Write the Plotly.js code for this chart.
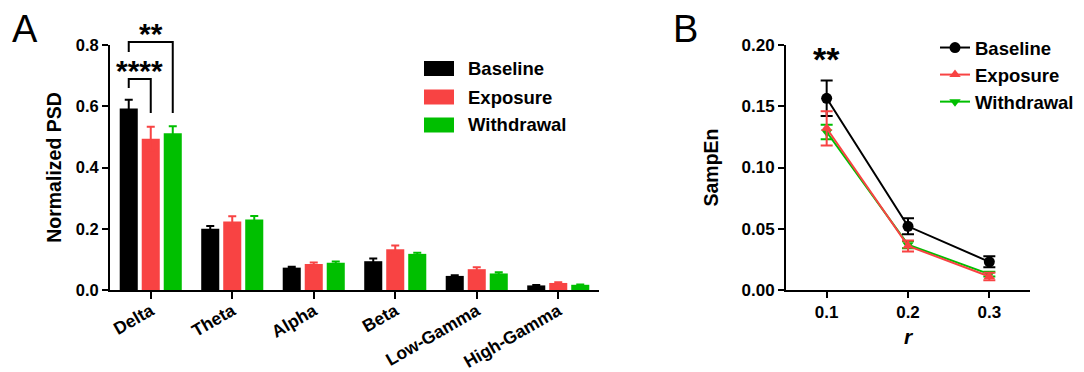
<!DOCTYPE html>
<html>
<head>
<meta charset="utf-8">
<script src="https://cdn.plot.ly/plotly-3.0.1.min.js"></script>
<style>html,body{margin:0;padding:0;background:#fff}#chart{width:1084px;height:372px}</style>
</head>
<body>
<div id="chart"></div>
<script>
// ---- Panel A data ----
const categories = ['Delta', 'Theta', 'Alpha', 'Beta', 'Low-Gamma', 'High-Gamma'];
const seriesNames = ['Baseline', 'Exposure', 'Withdrawal'];
const psdBaseline = [0.593, 0.200, 0.073, 0.094, 0.046, 0.015];
const psdBaselineErr = [0.028, 0.009, 0.003, 0.009, 0.002, 0.001];
const psdExposure = [0.494, 0.224, 0.085, 0.133, 0.068, 0.023];
const psdExposureErr = [0.039, 0.017, 0.005, 0.012, 0.006, 0.002];
const psdWithdrawal = [0.512, 0.230, 0.089, 0.118, 0.054, 0.017];
const psdWithdrawalErr = [0.023, 0.012, 0.004, 0.004, 0.004, 0.001];
const psdTicks = [0, 0.2, 0.4, 0.6, 0.8];

// ---- Panel B data ----
const rValues = [0.1, 0.2, 0.3];
const sampBaseline = [0.1565, 0.052, 0.023];
const sampBaselineErr = [0.0145, 0.0065, 0.0045];
const sampExposure = [0.132, 0.036, 0.011];
const sampExposureErr = [0.014, 0.0045, 0.003];
const sampWithdrawal = [0.129, 0.037, 0.013];
const sampWithdrawalErr = [0.006, 0.003, 0.002];
const sampTicks = [0, 0.05, 0.10, 0.15, 0.20];

// significance labels
const sigA = ['****', '**'];
const sigB = ['**'];

// ---- styling ----
const W = 1084, H = 372;
const FONT = '"Liberation Sans", Arial, sans-serif';
const colors = ['#000000', '#F84343', '#00BF00'];
const px = x => x / W;
const py = y => 1 - y / H;

const xDomA = [px(110), px(599)];
const yDom = [py(290), py(45)];
const xDomB = [px(786), px(1030)];
const yMaxA = 0.8;
const bargap = 0.19;
const slot = (1 - bargap) / 3;

function barTrace(name, y, err, i) {
  return {
    type: 'bar', name: name, x: categories, y: y,
    marker: {color: colors[i], line: {width: 0}},
    error_y: {type: 'data', array: err, visible: true, color: colors[i], thickness: 2, width: 4},
    xaxis: 'x', yaxis: 'y', showlegend: false
  };
}
function lineTrace(name, y, err, i, symbol, size, rank) {
  return {
    type: 'scatter', mode: 'lines+markers', name: name, x: rValues, y: y,
    line: {color: colors[i], width: 2},
    marker: {color: colors[i], symbol: symbol, size: size},
    error_y: {type: 'data', array: err, visible: true, color: colors[i], thickness: 2, width: 6},
    xaxis: 'x2', yaxis: 'y2', legend: 'legend2', legendgroup: name, legendrank: rank
  };
}

const data = [
  barTrace(seriesNames[0], psdBaseline, psdBaselineErr, 0),
  barTrace(seriesNames[1], psdExposure, psdExposureErr, 1),
  barTrace(seriesNames[2], psdWithdrawal, psdWithdrawalErr, 2),
  lineTrace(seriesNames[0], sampBaseline, sampBaselineErr, 0, 'circle', 11, 1),
  lineTrace(seriesNames[2], sampWithdrawal, sampWithdrawalErr, 2, 'triangle-down', 10, 3),
  lineTrace(seriesNames[1], sampExposure, sampExposureErr, 1, 'triangle-up', 10, 2)
];

// convert panel A (category index, value) to paper coords
const xA = (idx, k) => xDomA[0] + (idx + 0.5 + (k - 1) * slot) / categories.length * (xDomA[1] - xDomA[0]);
const yA = v => yDom[0] + v / yMaxA * (yDom[1] - yDom[0]);

const shapes = [];
const annotations = [];
// brackets: [leftBar, rightBar, topValue, leftBottom, rightBottom]
const brackets = [[0, 1, 0.689, 0.660, 0.578], [0, 2, 0.810, 0.777, 0.578]];
brackets.forEach((b, j) => {
  const x0 = xA(0, b[0]), x1 = xA(0, b[1]);
  shapes.push({type: 'path', xref: 'paper', yref: 'paper',
    path: `M${x0},${yA(b[3])} L${x0},${yA(b[2])} L${x1},${yA(b[2])} L${x1},${yA(b[4])}`,
    line: {color: '#000', width: 2}});
  annotations.push({xref: 'paper', yref: 'paper', x: (x0 + x1) / 2, y: yA(b[2]) - 0.028,
    text: sigA[j], showarrow: false, xanchor: 'center', yanchor: 'bottom',
    font: {family: FONT, size: 30, weight: 'bold', color: '#000'}});
});
annotations.push({xref: 'x2', yref: 'paper', x: rValues[0], y: py(80),
  text: sigB[0], showarrow: false, xanchor: 'center', yanchor: 'bottom',
  font: {family: FONT, size: 34, weight: 'bold', color: '#000'}});

// custom bar legend for panel A
const legRows = [68.5, 97, 125];
seriesNames.forEach((n, i) => {
  shapes.push({type: 'rect', xref: 'paper', yref: 'paper',
    x0: px(424), x1: px(454), y0: py(legRows[i] + 7.5), y1: py(legRows[i] - 7.5),
    fillcolor: colors[i], line: {width: 0}});
  annotations.push({xref: 'paper', yref: 'paper', x: px(466), y: py(legRows[i]),
    text: n, showarrow: false, xanchor: 'left', yanchor: 'middle',
    font: {family: FONT, size: 18.5, weight: 'bold', color: '#000'}});
});

// panel letters
annotations.push({xref: 'paper', yref: 'paper', x: px(25), y: py(29), text: 'A', showarrow: false,
  xanchor: 'center', yanchor: 'middle', font: {family: FONT, size: 38, color: '#000'}});
annotations.push({xref: 'paper', yref: 'paper', x: px(685), y: py(29), text: 'B', showarrow: false,
  xanchor: 'center', yanchor: 'middle', font: {family: FONT, size: 38, color: '#000'}});

const axisCommon = {
  showline: true, linecolor: '#000', linewidth: 2, ticks: 'outside', ticklen: 6, tickwidth: 2,
  tickcolor: '#000', showgrid: false, zeroline: false, automargin: false
};

const layout = {
  width: W, height: H, margin: {l: 0, r: 0, t: 0, b: 0},
  paper_bgcolor: '#fff', plot_bgcolor: '#fff',
  font: {family: FONT, color: '#000'},
  barmode: 'group', bargap: bargap, bargroupgap: 0.18,
  xaxis: Object.assign({}, axisCommon, {domain: xDomA, anchor: 'y', type: 'category',
    range: [-0.5, 5.5], tickangle: -30, ticklen: 7, ticklabelstandoff: -5,
    tickfont: {family: FONT, size: 17.5, weight: 'bold', color: '#000'}}),
  yaxis: Object.assign({}, axisCommon, {domain: yDom, anchor: 'x', range: [0, yMaxA],
    tickvals: psdTicks, tickformat: '.1f',
    tickfont: {family: FONT, size: 16.5, weight: 'bold', color: '#000'},
    title: {text: 'Normalized PSD', standoff: 9, font: {family: FONT, size: 19.5, weight: 'bold', color: '#000'}}}),
  xaxis2: Object.assign({}, axisCommon, {domain: xDomB, anchor: 'y2', range: [0.05, 0.35],
    tickvals: rValues, tickformat: '.1f',
    tickfont: {family: FONT, size: 17, weight: 'bold', color: '#000'},
    title: {text: '<i>r</i>', standoff: 8, font: {family: FONT, size: 21, weight: 'bold', color: '#000'}}}),
  yaxis2: Object.assign({}, axisCommon, {domain: yDom, anchor: 'x2', range: [0, 0.2],
    tickvals: sampTicks, tickformat: '.2f',
    tickfont: {family: FONT, size: 17, weight: 'bold', color: '#000'},
    title: {text: 'SampEn', standoff: 18, font: {family: FONT, size: 19.5, weight: 'bold', color: '#000'}}}),
  legend2: {x: px(935), y: py(29), xanchor: 'left', yanchor: 'top', bgcolor: 'rgba(0,0,0,0)',
    tracegroupgap: 8, traceorder: 'normal',
    font: {family: FONT, size: 18.5, weight: 'bold', color: '#000'}},
  shapes: shapes,
  annotations: annotations,
  showlegend: true
};

Plotly.newPlot('chart', data, layout, {displayModeBar: false, staticPlot: true});
</script>
</body>
</html>
